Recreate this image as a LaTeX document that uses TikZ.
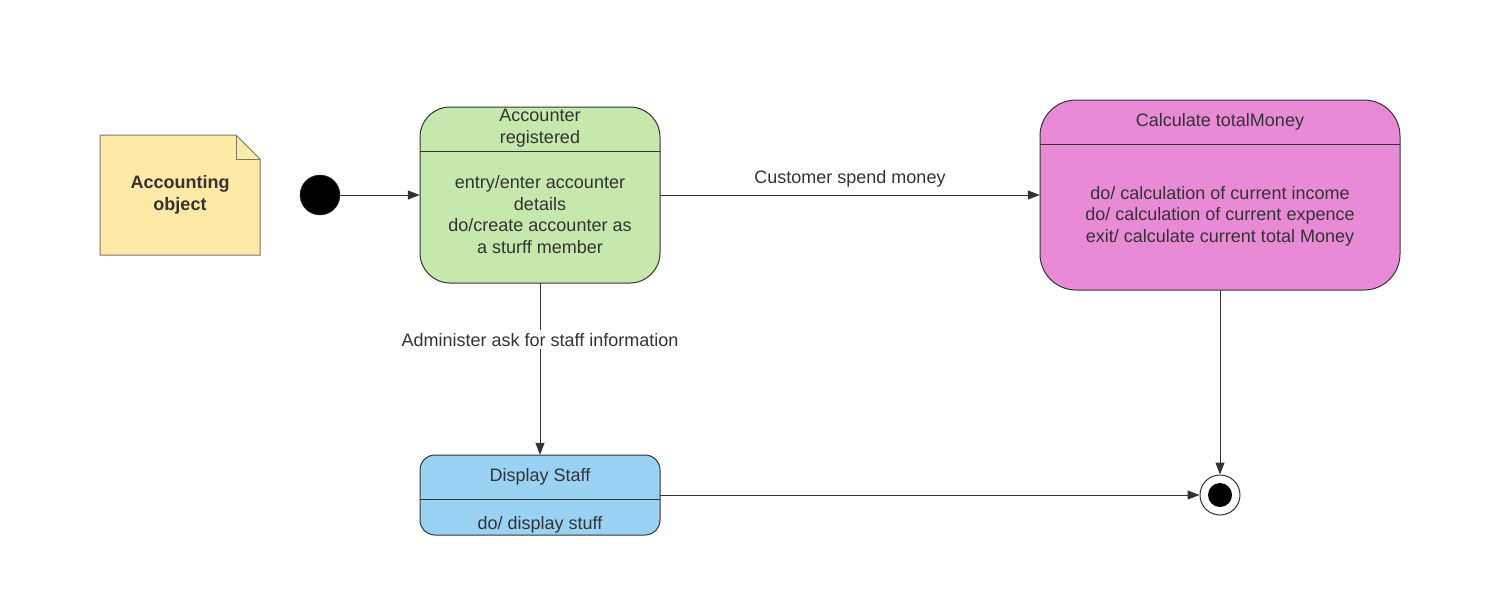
\documentclass[tikz,border=0pt]{standalone}
\usepackage{fontspec}
\setmainfont{Liberation Sans}
\usetikzlibrary{arrows.meta,shapes.misc}
\definecolor{ink}{HTML}{333333}
\definecolor{greenfill}{HTML}{C7E8AC}
\definecolor{pinkfill}{HTML}{E98AD6}
\definecolor{bluefill}{HTML}{9AD2F3}
\definecolor{notefill}{HTML}{FFE9A6}
\definecolor{noteline}{HTML}{7A7668}
\tikzset{
  x=1pt,y=-1pt,
  txt/.style={font=\fontsize{18}{21.5}\selectfont, text=ink, align=center, inner sep=0pt},
  statebox/.style={draw=ink, line width=1pt},
  conn/.style={draw=ink, line width=1pt, -{Triangle[length=12pt,width=9pt]}},
}
\begin{document}
\begin{tikzpicture}
\useasboundingbox (0,0) rectangle (1500,603);
% note
\draw[fill=notefill, draw=noteline, line width=1pt] (100,135) -- (236,135) -- (260,159) -- (260,255) -- (100,255) -- cycle;
\draw[draw=noteline, line width=1pt] (236,135) -- (236,159) -- (260,159);
\node[txt, font=\fontsize{18}{21.5}\selectfont\bfseries] (note) at (180,195) {Accounting\\object};
% initial
\node[circle, fill=black, draw=ink, minimum size=40pt, inner sep=0pt] (init) at (320,195) {};
% Accounter registered
\draw[statebox, fill=greenfill, rounded corners=30pt] (420,107) rectangle (660,283);
\node[inner sep=0pt, minimum width=240pt, minimum height=176pt] (acc) at (540,195) {};
\draw[ink, line width=1pt] (420,151) -- (660,151);
\node[txt] (acct) at (540,128) {Accounter\\registered};
\node[txt] (accb) at (540,214.5) {entry/enter accounter\\details\\do/create accounter as\\a sturff member};
% Calculate totalMoney
\draw[statebox, fill=pinkfill, rounded corners=36pt] (1040,100) rectangle (1400,290);
\node[inner sep=0pt, minimum width=360pt, minimum height=190pt] (calc) at (1220,195) {};
\draw[ink, line width=1pt] (1040,144) -- (1400,144);
\node[txt] (calct) at (1220,122) {Calculate totalMoney};
\node[txt] (calcb) at (1220,216) {do/ calculation of current income\\do/ calculation of current expence\\exit/ calculate current total Money};
% Display Staff
\draw[statebox, fill=bluefill, rounded corners=15pt] (420,455) rectangle (660,535);
\node[inner sep=0pt, minimum width=240pt, minimum height=80pt] (disp) at (540,495) {};
\draw[ink, line width=1pt] (420,499) -- (660,499);
\node[txt] (dispt) at (540,477) {Display Staff};
\node[txt] (dispb) at (540,525) {do/ display stuff};
% final
\node[circle, draw=ink, line width=1pt, fill=white, minimum size=40pt, inner sep=0pt] (final) at (1220,495) {};
\node[circle, fill=black, minimum size=24pt, inner sep=0pt] (finalin) at (1220,495) {};
% connectors
\draw[conn] (init) -- (acc);
\draw[conn] (acc) -- node[txt, above=7pt] (lab1) {Customer spend money} (calc);
\draw[conn] (acc) -- node[txt, fill=white, inner sep=3pt, pos=0.33] (lab2) {Administer ask for staff information} (disp);
\draw[conn] (disp) -- (final);
\draw[conn] (calc) -- (final);
\end{tikzpicture}
\end{document}
